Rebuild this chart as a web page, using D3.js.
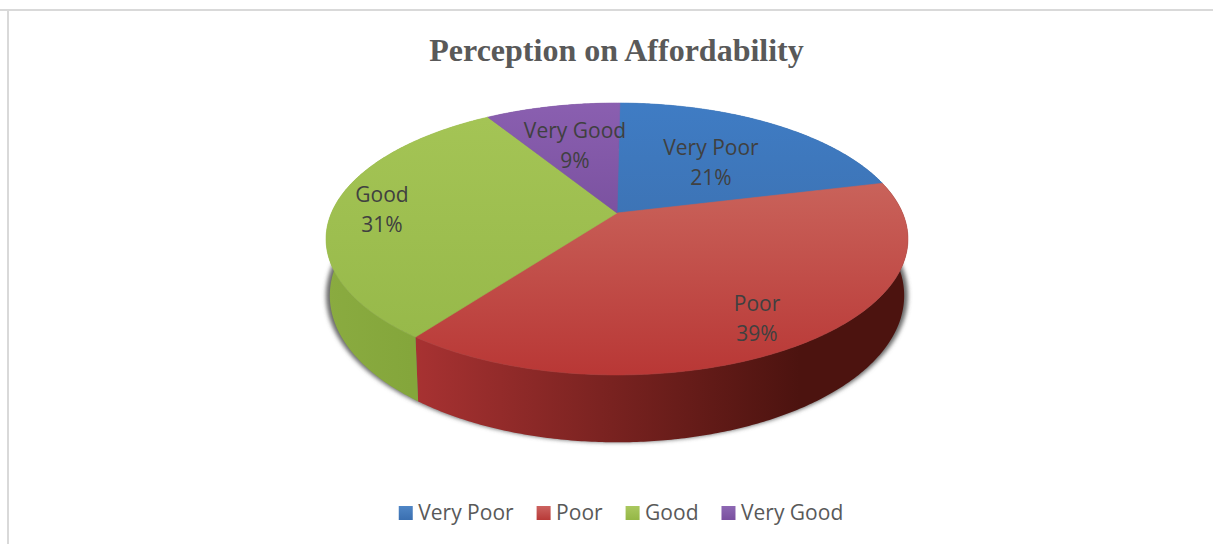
<!DOCTYPE html>
<html>
<head>
<meta charset="utf-8">
<title>Perception on Affordability</title>
<script src="https://cdn.jsdelivr.net/npm/d3@7/dist/d3.min.js"></script>
<style>
  html, body { margin: 0; padding: 0; background: #fff; }
  svg { display: block; }
</style>
</head>
<body>
<svg id="chart" width="1213" height="544"></svg>
<script>
const categories = ["Very Poor", "Poor", "Good", "Very Good"];
const shares = [21, 39, 31, 9];
const chartTitle = "Perception on Affordability";

// Shading per slice: top-face gradient (far to near), side-wall gradient (left to right).
const topShades = [
  ["#3f7cc4", "#3d74b6"],
  ["#c9625a", "#b93836"],
  ["#a4c455", "#97b94a"],
  ["#8a5fb0", "#7b52a0"]
];
const wallShades = [
  ["#2c5688", "#2c5688"],
  ["#a83232", "#4c130f"],
  ["#8aab40", "#84a63b"],
  ["#5a3c78", "#5a3c78"]
];
const legendShades = [
  ["#4f86c6", "#3a6fb0"],
  ["#cc6360", "#b83a38"],
  ["#aac85f", "#94b746"],
  ["#8d68b3", "#7a509f"]
];

const W = 1213, H = 544;
const svg = d3.select("#chart");
const defs = svg.append("defs");

// Tilted-disc projection: the near half of the disc appears larger than the far half,
// and the lower rim sits slightly inside the upper one.
const disc = { cx: 617, cy: 213, rx: 285.6, ry: 131, persp: 0.191, depth: 54.5, rimInset: 0.987, turn: 0.012 };
function project(angle, radius = 1, down = 0, inset = 1) {
  const u = Math.sin(angle + disc.turn) * radius;
  const v = -Math.cos(angle + disc.turn) * radius;
  const k = 1 / (1 - disc.persp * v);
  return [disc.cx + disc.rx * u * k * inset, disc.cy + disc.ry * v * k + disc.depth * k * down];
}
const sweep = (a0, a1) => {
  const n = Math.max(2, Math.ceil((a1 - a0) / 0.01));
  return d3.range(n + 1).map(i => a0 + (a1 - a0) * i / n);
};
const line = d3.line();

const slices = d3.pie().sort(null).value(d => d)(shares);

// Gradients for the faces and walls
function gradient(id, stops, x1, y1, x2, y2) {
  const g = defs.append("linearGradient").attr("id", id)
    .attr("gradientUnits", "userSpaceOnUse")
    .attr("x1", x1).attr("y1", y1).attr("x2", x2).attr("y2", y2);
  stops.forEach((c, i) => g.append("stop")
    .attr("offset", i / (stops.length - 1)).attr("stop-color", c));
}
slices.forEach((s, i) => {
  gradient(`key${i}`, legendShades[i], 0, 506, 0, 520);
});
gradient("top0", topShades[0], 0, 103, 0, 213);
gradient("top1", topShades[1], 0, 185, 0, 372);
gradient("top2", topShades[2], 0, 119, 0, 338);
gradient("top3", topShades[3], 0, 103, 0, 213);
gradient("wall0", wallShades[0], 617, 0, 880, 0);
gradient("wall1", wallShades[1], 412, 0, 800, 0);
gradient("wall2", wallShades[2], 327, 0, 412, 0);
gradient("wall3", wallShades[3], 490, 0, 617, 0);

const blur = defs.append("filter").attr("id", "soft")
  .attr("x", "-10%").attr("y", "-10%").attr("width", "120%").attr("height", "120%");
blur.append("feGaussianBlur").attr("stdDeviation", 2.2);

// Soft ground shadow below the disc, showing mostly at the two sides
const ring = sweep(0, 2 * Math.PI);
svg.append("path")
  .attr("d", line(ring.map(a => project(a, 1, 1))) + "Z")
  .attr("fill", "#6a6a6a")
  .attr("filter", "url(#soft)");

// Side walls
svg.append("g").selectAll("path").data(slices).join("path")
  .attr("d", d => {
    const arc = sweep(d.startAngle, d.endAngle);
    const upper = arc.map(a => project(a, 1, 0));
    const lower = arc.slice().reverse().map(a => project(a, 1, 1, disc.rimInset));
    return line(upper.concat(lower)) + "Z";
  })
  .attr("fill", (d, i) => `url(#wall${i})`);

// Top faces
svg.append("g").selectAll("path").data(slices).join("path")
  .attr("d", d => line([project(0, 0)].concat(sweep(d.startAngle, d.endAngle).map(a => project(a)))) + "Z")
  .attr("fill", (d, i) => `url(#top${i})`)
  .attr("stroke", (d, i) => `url(#top${i})`)
  .attr("stroke-width", 0.6);

// Outer chart frame: only the top and left rules are visible
svg.append("rect").attr("x", 0).attr("y", 9).attr("width", W).attr("height", 2).attr("fill", "#d9d9d9");
svg.append("rect").attr("x", 7).attr("y", 9).attr("width", 2).attr("height", H - 9).attr("fill", "#d9d9d9");

// Title
svg.append("text")
  .attr("x", 616.5).attr("y", 61)
  .attr("text-anchor", "middle")
  .attr("font-family", "'Liberation Serif', serif")
  .attr("font-weight", "bold")
  .attr("font-size", 32)
  .attr("fill", "#595959")
  .text(chartTitle);

// Data labels: category over percentage
const labelAnchors = [[711, 148], [757, 304], [382, 195], [575, 131]];
const labels = svg.append("g")
  .attr("font-family", "'Open Sans', sans-serif")
  .attr("font-size", 21)
  .attr("fill", "#404040")
  .attr("text-anchor", "middle");
categories.forEach((name, i) => {
  const [x, y] = labelAnchors[i];
  labels.append("text").attr("x", x).attr("y", y + 7).text(name);
  labels.append("text").attr("x", x).attr("y", y + 36.5).text(`${shares[i]}%`);
});

// Legend, laid out from the measured label widths and centred below the pie
const legend = svg.append("g")
  .attr("font-family", "'Open Sans', sans-serif")
  .attr("font-size", 21)
  .attr("fill", "#595959");
const items = categories.map((name, i) => {
  const g = legend.append("g");
  g.append("rect").attr("width", 14).attr("height", 14).attr("y", 506).attr("fill", `url(#key${i})`);
  const t = g.append("text").attr("x", 19.5).attr("y", 520).text(name);
  return { g, w: 19.5 + t.node().getComputedTextLength() };
});
const gap = 23;
const total = d3.sum(items, d => d.w) + gap * (items.length - 1);
let cursor = 621 - total / 2;
items.forEach(it => {
  it.g.attr("transform", `translate(${cursor},0)`);
  cursor += it.w + gap;
});
</script>
</body>
</html>
